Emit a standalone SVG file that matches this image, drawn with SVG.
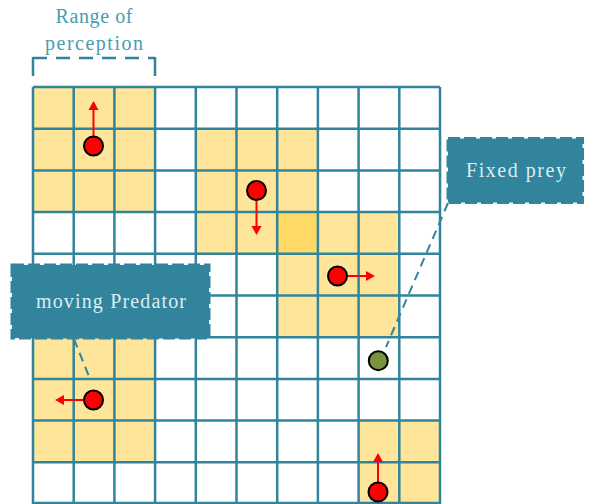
<svg xmlns="http://www.w3.org/2000/svg" width="599" height="504" viewBox="0 0 599 504">
<style>
.cell{fill:#FFE599}
.over{fill:#FFD966}
.grid{stroke:#31849B;stroke-width:2.5;fill:none}
.conn{stroke:#31849B;stroke-width:2;fill:none;stroke-dasharray:9,6}
.pred{fill:#FF0000;stroke:#000;stroke-width:2}
.prey{fill:#77933C;stroke:#000;stroke-width:2}
.arr{stroke:#FF0000;stroke-width:2;fill:none}
.head{fill:#FF0000}
.box{fill:#31849B;stroke:#31849B;stroke-width:3;stroke-dasharray:12,4}
.lbl{font-family:"Liberation Serif","DejaVu Serif",serif;font-size:20px;fill:#DAEEF3}
.rng{font-family:"Liberation Serif","DejaVu Serif",serif;font-size:20px;fill:#4A9BB3}
</style>
<rect width="599" height="504" fill="#fff"/>
<g id="ranges">
<rect class="cell" x="33" y="87" width="122.1" height="125.1"/>
<rect class="cell" x="195.8" y="128.7" width="122.1" height="125.1"/>
<rect class="cell" x="277.2" y="212.1" width="122.1" height="125.1"/>
<rect class="over" x="277.2" y="212.1" width="40.7" height="41.7"/>
<rect class="cell" x="33" y="337.2" width="122.1" height="125.1"/>
<rect class="cell" x="358.6" y="420.6" width="81.4" height="83.4"/>
</g>
<g id="grid">
<path class="grid" d="M33 87V504M73.7 87V504M114.4 87V504M155.1 87V504M195.8 87V504M236.5 87V504M277.2 87V504M317.9 87V504M358.6 87V504M399.3 87V504M440 87V504M33 87H440M33 128.7H440M33 170.4H440M33 212.1H440M33 253.8H440M33 295.5H440M33 337.2H440M33 378.9H440M33 420.6H440M33 462.3H440M33 503H440"/>
</g>
<g id="perception">
<path d="M33 58H155" stroke="#31849B" stroke-width="2.5" stroke-dasharray="14,9" fill="none"/>
<path d="M33 57V76M155 57V76" stroke="#31849B" stroke-width="2.5" fill="none"/>
<text class="rng" x="94" y="23" text-anchor="middle" textLength="77" lengthAdjust="spacing">Range of</text>
<text class="rng" x="94" y="50" text-anchor="middle" textLength="98" lengthAdjust="spacing">perception</text>
</g>
<g id="connectors">
<path class="conn" d="M74 339L90 379"/>
<path class="conn" d="M448 203L386 347"/>
</g>
<g id="predator1">
<path class="arr" d="M93.5 136V108"/>
<polygon class="head" points="93.5,101 88.5,110 98.5,110"/>
<circle class="pred" cx="93.5" cy="146" r="9.5"/>
</g>
<g id="predator2">
<path class="arr" d="M256.5 200V228"/>
<polygon class="head" points="256.5,235 251.5,226 261.5,226"/>
<circle class="pred" cx="256.5" cy="190.5" r="9.5"/>
</g>
<g id="predator3">
<path class="arr" d="M347 276H368"/>
<polygon class="head" points="375,276 366,271 366,281"/>
<circle class="pred" cx="337.5" cy="276" r="9.5"/>
</g>
<g id="predator4">
<path class="arr" d="M84 400H62"/>
<polygon class="head" points="55,400 64,395 64,405"/>
<circle class="pred" cx="93.5" cy="400" r="9.5"/>
</g>
<g id="predator5">
<path class="arr" d="M378 482V460"/>
<polygon class="head" points="378,453 373,462 383,462"/>
<circle class="pred" cx="378" cy="492" r="9.5"/>
</g>
<g id="prey">
<circle class="prey" cx="378.3" cy="360.7" r="9.5"/>
</g>
<g id="label-predator">
<rect class="box" x="12" y="265" width="197" height="73"/>
<text class="lbl" x="111" y="308" text-anchor="middle" textLength="150" lengthAdjust="spacing">moving Predator</text>
</g>
<g id="label-prey">
<rect class="box" x="448" y="138.5" width="134.5" height="64"/>
<text class="lbl" x="516" y="177" text-anchor="middle" textLength="100" lengthAdjust="spacing">Fixed prey</text>
</g>
</svg>
